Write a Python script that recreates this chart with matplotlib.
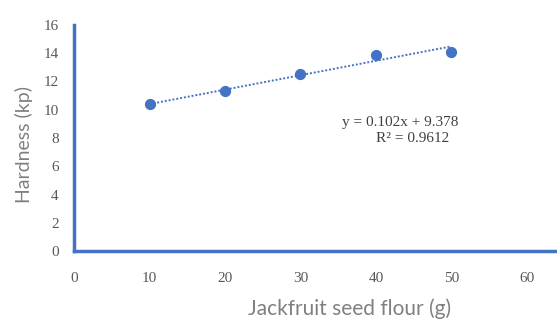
import matplotlib.pyplot as plt
import numpy as np

# jackfruit seed flour (g) vs tablet hardness (kp)
flour_g = [10, 20, 30, 40, 50]
hardness_kp = [10.4, 11.3, 12.5, 13.9, 14.1]

# linear trendline as reported
slope = 0.102
intercept = 9.378
r_squared = 0.9612

x_ticks = [0, 10, 20, 30, 40, 50, 60]
y_ticks = [0, 2, 4, 6, 8, 10, 12, 14, 16]

blue = "#4472C4"
serif = ["Liberation Serif", "DejaVu Serif"]
sans = ["Lato", "DejaVu Sans"]

W, H = 557, 327
fig = plt.figure(figsize=(W / 100, H / 100), dpi=100)
ax = fig.add_axes([0.133, 0.232, 0.867, 0.692])

ax.scatter(flour_g, hardness_kp, s=50, color=blue, zorder=3)

fit_x = np.array([flour_g[0], flour_g[-1]])
ax.plot(fit_x, slope * fit_x + intercept, color=blue, lw=1.4,
        linestyle=(0, (1, 1)), zorder=2)

fig.text(400 / W, 1 - 122 / H, f"y = {slope}x + {intercept}", ha="center",
         va="center", fontsize=11, family=serif, color="#404040")
fig.text(413 / W, 1 - 138 / H, f"R² = {r_squared}", ha="center",
         va="center", fontsize=11, family=serif, color="#404040")

ax.set_xlim(0, 64)
ax.set_ylim(0, 16)
ax.set_xticks(x_ticks)
ax.set_yticks(y_ticks)
ax.tick_params(length=0, labelsize=11, colors="#595959")
ax.tick_params(axis="x", pad=15)
ax.tick_params(axis="y", pad=11)
for lab in ax.get_xticklabels() + ax.get_yticklabels():
    lab.set_family(serif)

for side in ("top", "right"):
    ax.spines[side].set_visible(False)
for side in ("left", "bottom"):
    ax.spines[side].set_color(blue)
    ax.spines[side].set_linewidth(2.5)

ax.set_xlabel("Jackfruit seed flour (g)", family=sans, fontsize=15,
              color="#808080")
ax.set_ylabel("Hardness (kp)", family=sans, fontsize=14, color="#808080")
ax.xaxis.set_label_coords(0.571, -0.21)
ax.yaxis.set_label_coords(-0.085, 0.47)

fig.savefig("out.png", dpi=100)
